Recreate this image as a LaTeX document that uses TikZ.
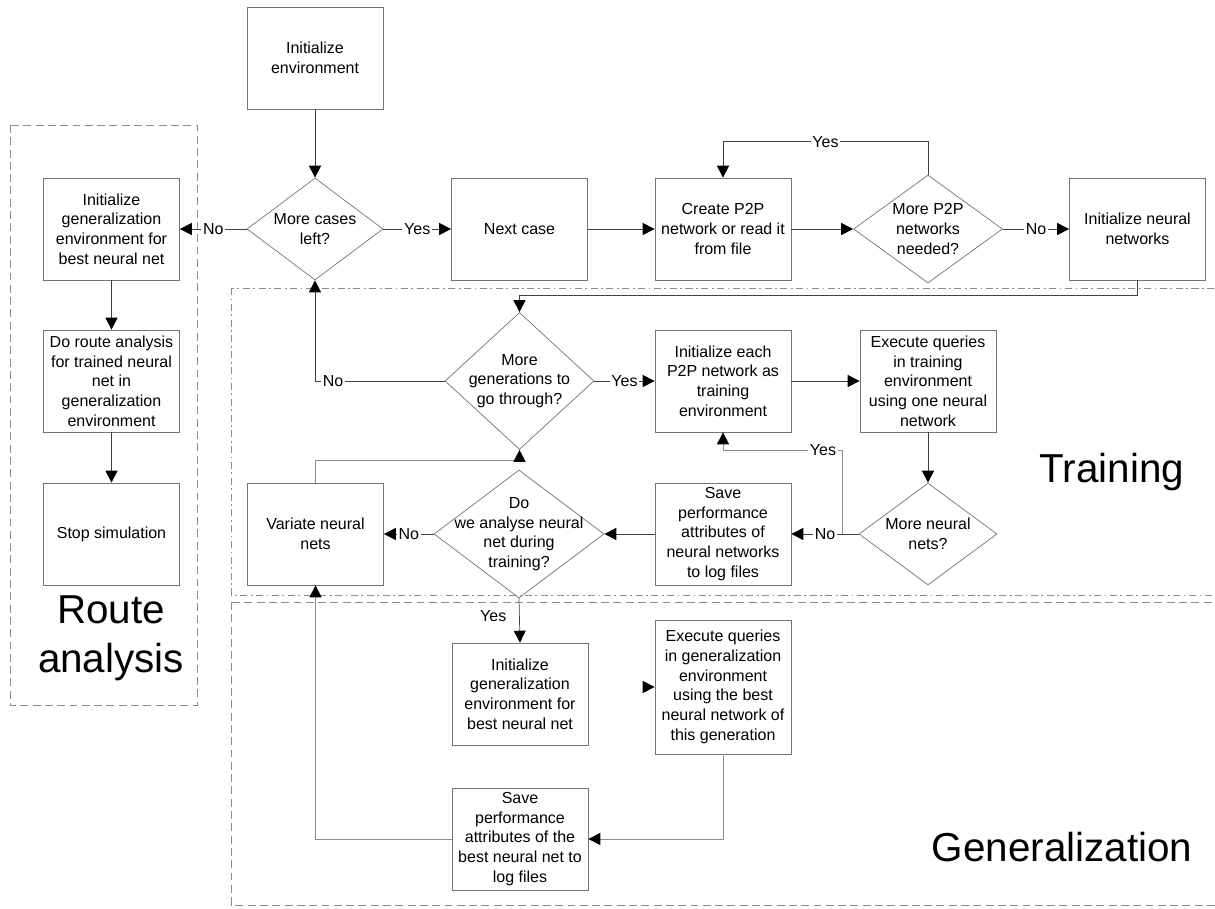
\documentclass[tikz,border=0pt]{standalone}
\usepackage{fontspec}
\setmainfont{Liberation Sans}
\usepackage{tikz}
\usetikzlibrary{shapes,arrows.meta}

\definecolor{boxgray}{gray}{0.45}
\definecolor{wiregray}{gray}{0.25}
\definecolor{faintgray}{gray}{0.55}
\definecolor{areagray}{gray}{0.55}

\begin{document}
\begin{tikzpicture}[x=0.02cm, y=-0.02cm,
	every node/.style={font=\fontsize{9.1}{11.2}\selectfont},
	stepbox/.style={draw=boxgray, rectangle, align=center, minimum width=2.72cm, minimum height=2.04cm, inner sep=1pt},
	decision/.style={draw=boxgray, diamond, inner sep=0pt},
	flow/.style={draw=wiregray, -{Triangle[length=6.8pt,width=6.8pt,color=black]}},
	faint/.style={draw=faintgray},
	answer/.style={fill=white, inner sep=1pt},
	area/.style={draw=areagray},
	bigtext/.style={font=\fontsize{23}{28}\selectfont, align=center}]

	\useasboundingbox (0,0) rectangle (1215,909);

	% the three areas
	\draw[area, dash pattern=on 4.5pt off 2.5pt] (10,125) rectangle (197,705);
	\draw[area, dash pattern=on 4pt off 2pt on 1pt off 2pt] (231,288) rectangle (1230,595);
	\draw[area, dash pattern=on 4.5pt off 2.5pt] (231,602) rectangle (1230,905);
	\node[bigtext] (routetxt) at (111,638) {Route\\analysis};
	\node[bigtext] (traintxt) at (1112,472) {Training};
	\node[bigtext] (gentxt) at (1062,847) {Generalization};

	% top row
	\node[stepbox] (initenv) at (315,58) {Initialize\\environment};
	\node[decision, minimum width=2.72cm, minimum height=2.04cm,
		label={[align=center]center:More cases\\left?}] (cases) at (315,229) {};
	\node[stepbox] (nextcase) at (519.5,229) {Next case};
	\node[stepbox] (create) at (723,229) {Create P2P\\network or read it\\from file};
	\node[decision, minimum width=2.98cm, minimum height=2.16cm,
		label={[align=center]center:More P2P\\networks\\needed?}] (morep2p) at (928,229) {};
	\node[stepbox] (initnn) at (1137.5,229) {Initialize neural\\networks};

	% route analysis
	\node[stepbox] (genroute) at (111.5,229) {Initialize\\generalization\\environment for\\best neural net};
	\node[stepbox] (routean) at (111.5,381) {Do route analysis\\for trained neural\\net in\\generalization\\environment};
	\node[stepbox] (stopsim) at (111.5,534) {Stop simulation};

	% training
	\node[decision, minimum width=2.98cm, minimum height=2.74cm,
		label={[align=center]center:More\\generations to\\go through?}] (moregen) at (519.5,381) {};
	\node[stepbox] (initeach) at (723,381) {Initialize each\\P2P network as\\training\\environment};
	\node[stepbox] (exetrain) at (928,381) {Execute queries\\in training\\environment\\using one neural\\network};
	\node[decision, minimum width=2.76cm, minimum height=2.04cm,
		label={[align=center]center:More neural\\nets?}] (moreneural) at (928,534) {};
	\node[stepbox] (savetrain) at (723,534) {Save\\performance\\attributes of\\neural networks\\to log files};
	\node[decision, minimum width=3.4cm, minimum height=2.56cm,
		label={[align=center]center:Do\\we analyse neural\\net during\\training?}] (doanalyse) at (519,534) {};
	\node[stepbox] (variate) at (315.5,534) {Variate neural\\nets};
	\coordinate (yesfork) at (842,534);

	% generalization
	\node[stepbox] (initgen) at (520,694) {Initialize\\generalization\\environment for\\best neural net};
	\node[stepbox, minimum height=2.68cm] (exegen) at (723,687) {Execute queries\\in generalization\\environment\\using the best\\neural network of\\this generation};
	\node[stepbox] (savegen) at (520,839) {Save\\performance\\attributes of the\\best neural net to\\log files};

	% connectors
	\draw[flow] (initenv.south) -- (cases.north);
	\draw[flow] (cases.west) -- node[answer]{No} (genroute.east);
	\draw[flow] (cases.east) -- node[answer]{Yes} (nextcase.west);
	\draw[flow] (nextcase.east) -- (create.west);
	\draw[flow] (create.east) -- (morep2p.west);
	\draw[flow] (morep2p.east) -- node[answer]{No} (initnn.west);
	\draw[flow] (morep2p.north) -- ++(0,-33) -| node[answer, pos=0.25]{Yes} (create.north);
	\draw[flow] (genroute.south) -- (routean.north);
	\draw[flow] (routean.south) -- (stopsim.north);
	\draw[flow] (initnn.south) -- ++(0,15) -| (moregen.north);
	\draw[flow] (moregen.west) -| node[answer, pos=0.43]{No} (cases.south);
	\draw[flow] (moregen.east) -- node[answer]{Yes} (initeach.west);
	\draw[flow] (initeach.east) -- (exetrain.west);
	\draw[flow] (exetrain.south) -- (moreneural.north);
	\draw[flow] (moreneural.west) -- node[answer]{No} (savetrain.east);
	\draw[flow, faint] (yesfork) -- ++(0,-84) -| node[answer, pos=0.08]{Yes} (initeach.south);
	\draw[flow] (savetrain.west) -- (doanalyse.east);
	\draw[flow] (doanalyse.west) -- node[answer]{No} (variate.east);
	\draw[flow, faint] (variate.north) -- ++(0,-22) -| (moregen.south);
	\draw[flow] (doanalyse.south) -- node[answer, left=0.22cm, pos=0.4]{Yes} (initgen.north);
	\draw[flow, draw=white] ([xshift=3pt]initgen.east |- exegen.west) -- (exegen.west);
	\draw[flow, faint] (exegen.south) |- (savegen.east);
	\draw[flow, faint] (savegen.west) -| (variate.south);
\end{tikzpicture}
\end{document}
